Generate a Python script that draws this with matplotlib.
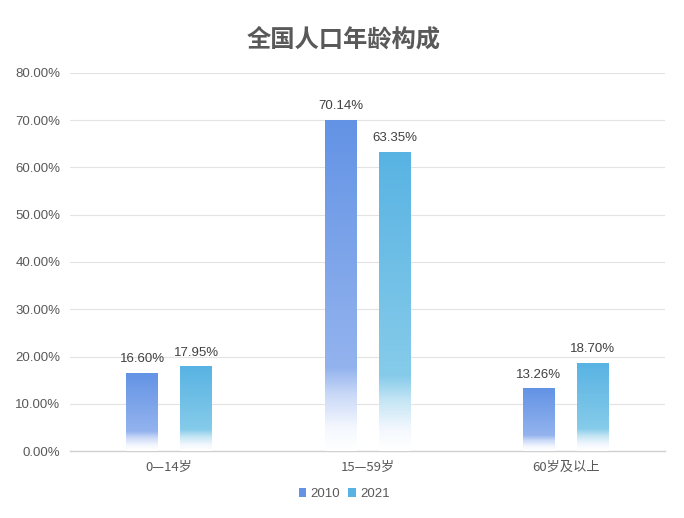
import matplotlib
matplotlib.use("Agg")
import matplotlib.pyplot as plt
import numpy as np
from matplotlib.colors import LinearSegmentedColormap
from matplotlib.patches import Rectangle

plt.rcParams['font.family'] = ['Noto Sans CJK SC', 'DejaVu Sans']

categories = ["0—14岁", "15—59岁", "60岁及以上"]
series_names = ["2010", "2021"]
values_2010 = [16.60, 70.14, 13.26]
values_2021 = [17.95, 63.35, 18.70]
yticks = [0, 10, 20, 30, 40, 50, 60, 70, 80]

colors_top = ["#6393E5", "#58B3E3"]
colors_mid = ["#93B3EE", "#86CBEA"]
colors_low = ["#C9D8F7", "#C3E5F4"]

num_font = ["Liberation Sans", "DejaVu Sans"]

fig = plt.figure(figsize=(6.84, 5.18), dpi=100)
ax = fig.add_axes([70/684, 1 - 451/518, 595/684, (451-73)/518])

x = np.arange(len(categories))
width = 0.161
offsets = [-0.136, 0.136]

grad = np.linspace(0, 1, 256).reshape(-1, 1)
for si, vals in enumerate([values_2010, values_2021]):
    cmap = LinearSegmentedColormap.from_list(
        f"g{si}",
        [(0.0, "#FFFFFF"), (0.07, "#F4F8FE"), (0.17, colors_low[si]),
         (0.25, colors_mid[si]), (1.0, colors_top[si])])
    for xi, v in zip(x, vals):
        left = xi + offsets[si] - width / 2
        im = ax.imshow(grad, cmap=cmap, origin="lower", aspect="auto",
                       extent=[left, left + width, 0, v], zorder=3,
                       interpolation="bilinear")
        rect = Rectangle((left, 0), width, v, transform=ax.transData,
                         facecolor="none", edgecolor="none")
        ax.add_patch(rect)
        im.set_clip_path(rect)
        ax.text(xi + offsets[si], v + 1.6, f"{v:.2f}%", ha="center",
                va="bottom", fontsize=9.5, color="#404040",
                family=num_font)

ax.set_xlim(-0.5, 2.5)
ax.set_ylim(0, 80)
ax.set_yticks(yticks)
ax.set_yticklabels([f"{t:.2f}%" for t in yticks], fontsize=9.5, color="#595959",
                   family=num_font)
ax.set_xticks(x)
ax.set_xticklabels(categories, fontsize=9.5, color="#595959")
ax.tick_params(axis="both", length=0, pad=7)
ax.grid(axis="y", color="#E3E3E3", linewidth=0.8, zorder=0)
ax.set_axisbelow(True)
for s in ["top", "right", "left"]:
    ax.spines[s].set_visible(False)
ax.spines["bottom"].set_color("#D0D0D0")
ax.spines["bottom"].set_linewidth(1)

fig.text(344/684, 1 - 40/518, "全国人口年龄构成", ha="center", va="center",
         fontsize=17.5, fontweight="bold", color="#595959")

handles = [Rectangle((0, 0), 1, 1, facecolor=c) for c in colors_top]
leg = fig.legend(handles, series_names, loc="center", bbox_to_anchor=(344/684, 1 - 494/518),
                 ncol=2, frameon=False, fontsize=9.5, handlelength=0.6, handleheight=0.6,
                 handletextpad=0.3, columnspacing=0.6,
                 prop={"family": num_font, "size": 9.5})
for t in leg.get_texts():
    t.set_color("#595959")

fig.savefig("out.png", dpi=100)
